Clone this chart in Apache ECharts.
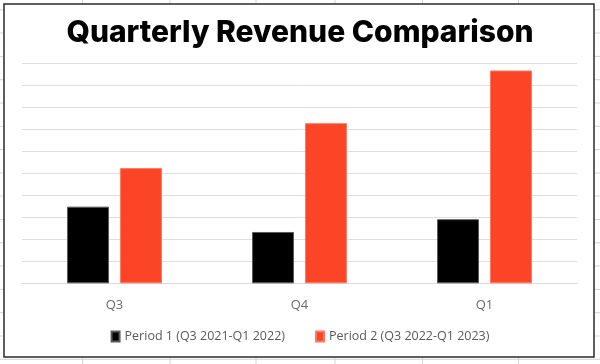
<!DOCTYPE html>
<html>
<head>
<meta charset="utf-8">
<script src="https://cdn.jsdelivr.net/npm/echarts@6/dist/echarts.min.js"></script>
<style>
html,body{margin:0;padding:0;background:#fff;}
#chart{width:600px;height:364px;}
</style>
</head>
<body>
<div id="chart"></div>
<script>
const chartTitle = 'Quarterly Revenue Comparison';
const categories = ['Q3', 'Q4', 'Q1'];
const seriesNames = ['Period 1 (Q3 2021-Q1 2022)', 'Period 2 (Q3 2022-Q1 2023)'];
const period1 = [3.48, 2.33, 2.91];
const period2 = [5.23, 7.27, 9.66];
const yMin = 0, yMax = 10, yStep = 1;

// decorative spreadsheet cell lines behind the chart object
const sheetCols = [82.5, 170, 256, 335, 422.5, 518.5];
const sheetRows = [9.8, 33, 56.4, 79.7, 103, 126.3, 149.6, 173, 196, 219.5, 242.8, 266, 289.4, 312.7, 336, 359.3];

const chart = echarts.init(document.getElementById('chart'), null, {renderer: 'canvas'});

const deco = [];
sheetCols.forEach(x => deco.push({type: 'line', z: -20, shape: {x1: x, y1: 0, x2: x, y2: 364}, style: {stroke: '#d4d4d4', lineWidth: 1}}));
sheetRows.forEach(y => deco.push({type: 'line', z: -20, shape: {x1: 0, y1: y, x2: 600, y2: y}, style: {stroke: '#d4d4d4', lineWidth: 1}}));
deco.push({type: 'rect', z: -10, shape: {x: 4, y: 4, width: 590, height: 353}, style: {fill: '#ffffff', stroke: '#2b2b2b', lineWidth: 1.5}});

chart.setOption({
  animation: false,
  backgroundColor: '#ffffff',
  graphic: deco,
  title: {
    text: chartTitle,
    left: 'center',
    top: 13,
    textStyle: {fontFamily: 'Inter', fontWeight: 800, fontSize: 30, color: '#000000'}
  },
  legend: {
    data: seriesNames,
    bottom: 16,
    left: 'center',
    itemWidth: 8,
    itemHeight: 10,
    itemGap: 30,
    icon: 'rect',
    textStyle: {fontFamily: 'Open Sans', fontSize: 12.5, color: '#595959'}
  },
  grid: {left: 22, right: 23, top: 63, bottom: 80.7, containLabel: false},
  xAxis: {
    type: 'category',
    data: categories,
    axisLine: {show: true, lineStyle: {color: '#d9d9d9', width: 1}},
    axisTick: {show: false},
    axisLabel: {fontFamily: 'Open Sans', fontSize: 13, color: '#6a6a6a', margin: 15}
  },
  yAxis: {
    type: 'value',
    min: yMin,
    max: yMax,
    interval: yStep,
    axisLabel: {show: false},
    axisLine: {show: false},
    axisTick: {show: false},
    splitLine: {lineStyle: {color: '#dedede', width: 1}}
  },
  series: [
    {
      name: seriesNames[0],
      type: 'bar',
      data: period1,
      barWidth: 42,
      barGap: '26%',
      itemStyle: {color: '#000000', borderColor: '#5a5a5a', borderWidth: 1}
    },
    {
      name: seriesNames[1],
      type: 'bar',
      data: period2,
      barWidth: 42,
      barGap: '26%',
      itemStyle: {color: '#fc4527', borderColor: '#fd7a62', borderWidth: 1}
    }
  ]
});
</script>
</body>
</html>
